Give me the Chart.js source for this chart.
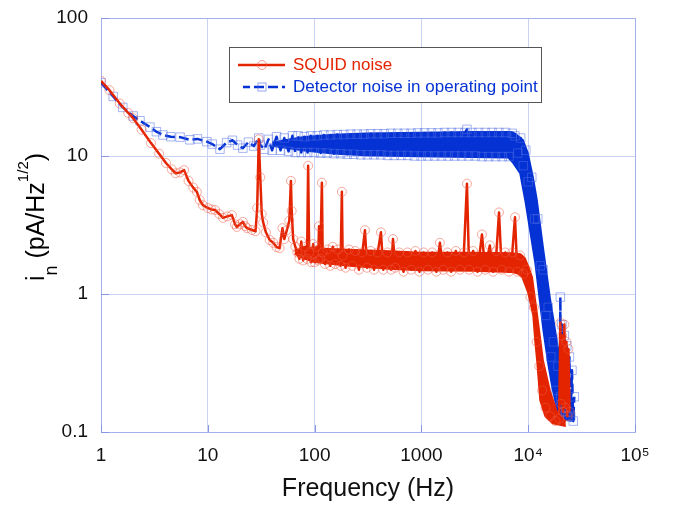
<!DOCTYPE html>
<html>
<head>
<meta charset="utf-8">
<script src="https://cdn.jsdelivr.net/npm/chart.js@4.4.1/dist/chart.umd.min.js"></script>
<style>
  body { margin: 0; background: #fff; }
  #wrap { width: 674px; height: 506px; }
</style>
</head>
<body>
<div id="wrap"><canvas id="chart"></canvas></div>
<script>
// axes
const xTicks = [1, 10, 100, 1000, 10000, 100000];
const xTickLabels = ['1', '10', '100', '1000', '10⁴', '10⁵'];
const yTicks = [0.1, 1, 10, 100];
const yTickLabels = ['0.1', '1', '10', '100'];

const squidLabel = 'SQUID noise';
const detLabel = 'Detector noise in operating point';

// SQUID noise
const squidFreq = [
  1, 1.2, 1.5, 1.8, 2, 2.4, 2.94, 3.5, 4.06, 4.6, 5, 5.5, 6, 6.6, 7.3, 7.9, 8.4, 9, 10, 10.8,
  11.7, 12.8, 13.9, 15.2, 16.8, 18, 18.7, 20, 21.3, 22.4, 23.3, 25.9, 28, 29, 30, 31, 32, 33, 35, 38,
  41, 44, 47, 50, 52, 55, 58, 60, 61, 63, 66, 69, 72, 75, 78, 82, 85, 87, 89, 93,
  97, 100, 104, 108, 110, 113, 117, 119, 125, 132, 140, 148, 156, 165, 175, 180, 183, 195, 210, 225,
  240, 260, 280, 296, 310, 335, 360, 390, 418, 440, 480, 520, 542, 570, 620, 680, 740, 800, 880, 960,
  1050, 1150, 1260, 1380, 1490, 1600, 1750, 1900, 2100, 2300, 2500, 2670, 2800, 3050, 3350, 3690, 3950, 4370, 4700, 5050,
  5330, 5650, 6100, 6600, 7100, 7520, 7900, 8400, 9000, 9700, 10500, 11300, 12000, 12700, 13500, 14500, 16000, 18000, 19500, 20000,
  20300, 20800, 21200, 21800, 22300, 22800, 23300, 23800, 24400
];
const squidNoise = [
  35, 30, 24, 20.5, 18.8, 15.5, 12.4, 10.4, 8.9, 8.0, 7.5, 7.6, 7.9, 6.6, 5.9, 5.5, 4.8, 4.4, 4.2, 4.1,
  4.06, 3.8, 3.56, 3.65, 3.73, 3.2, 3.06, 3.2, 3.33, 3.1, 3.0, 2.91, 2.85, 4.2, 13.2, 7, 3.8, 3.3, 2.8, 2.46,
  2.35, 2.19, 2.15, 3.0, 2.5, 2.9, 3.4, 6.6, 4, 2.5, 2.2, 2.0, 1.8, 2.4, 1.75, 2.2, 1.8, 8.5, 2.0, 1.7,
  2.3, 1.7, 2.2, 1.75, 3.1, 1.8, 6.4, 2.0, 1.65, 2.1, 1.6, 2.2, 1.65, 2.1, 1.6, 5.5, 1.9, 1.55, 2.1, 1.6,
  2.05, 1.5, 2.0, 2.9, 1.55, 2.05, 1.5, 2.0, 2.8, 1.5, 2.0, 1.5, 2.5, 1.55, 2.0, 1.45, 2.0, 1.5, 2.05, 1.45,
  2.0, 1.5, 2.0, 1.45, 2.35, 1.5, 2.0, 1.45, 2.05, 1.5, 2.0, 6.3, 1.5, 2.05, 1.45, 2.7, 1.5, 2.25, 1.45, 2.05,
  3.9, 1.5, 2.0, 1.45, 2.0, 3.6, 1.45, 1.9, 1.4, 1.5, 0.95, 0.8, 0.45, 0.3, 0.2, 0.15, 0.13, 0.12, 0.125, 0.62,
  0.16, 0.5, 0.14, 0.6, 0.15, 0.45, 0.13, 0.4, 0.14
];
// dense part of the SQUID trace: upper / lower edge of the band
const squidBandFreqUp = [65, 80, 100, 200, 500, 1000, 3000, 7000, 8500, 9330, 10000, 10900, 12100, 13800, 16000, 18600, 21000, 22500];
const squidBandUp = [2.05, 2.2, 2.15, 2.1, 2.05, 2.0, 2.0, 1.98, 1.95, 1.82, 1.6, 1.33, 0.73, 0.33, 0.2, 0.14, 0.125, 0.12];
const squidBandFreqLow = [65, 80, 100, 200, 500, 1000, 3000, 7000, 8000, 8750, 9960, 11100, 11600, 12100, 12900, 14400, 17000, 22500];
const squidBandLow = [1.95, 1.8, 1.7, 1.6, 1.52, 1.48, 1.47, 1.44, 1.4, 1.33, 1.02, 0.7, 0.45, 0.32, 0.17, 0.13, 0.115, 0.11];

// detector noise
const detFreq = [
  1, 1.3, 1.6, 2, 2.32, 2.87, 3.3, 3.8, 4.5, 5.5, 6.8, 8, 9.8, 11, 13, 15, 17, 19, 21.3, 24,
  27, 30, 31, 34, 37, 40, 44, 48, 52, 57, 62, 66, 70, 75, 80, 86, 92, 99, 106, 114,
  122, 131, 141, 152, 163, 175, 188, 202, 217, 233, 250, 270, 290, 312, 335, 360, 388, 417, 448, 482,
  518, 557, 600, 645, 693, 745, 800, 860, 925, 995, 1070, 1150, 1240, 1330, 1430, 1540, 1650, 1780, 1910, 2050,
  2210, 2380, 2560, 2670, 2760, 2970, 3190, 3430, 3690, 3970, 4270, 4590, 4940, 5310, 5710, 6140, 6600, 7100, 7520, 8000,
  8500, 9000, 9500, 10000, 10800, 11500, 12300, 13000, 13800, 14600, 15400, 16300, 17200, 18000, 19000, 19800, 20000, 20200, 20700, 21200,
  21800, 22400, 23000, 23600, 24300, 25000, 25700, 26400, 27000
];
const detNoise = [
  34, 27, 22.5, 19.5, 18, 16.2, 15, 14.2, 13.8, 13.7, 13.1, 13.3, 12.7, 12.2, 11.2, 12.5, 13, 12, 11.4, 12.6,
  11.8, 13.5, 12, 11.2, 13.2, 11, 13.8, 11, 13.5, 10.8, 14, 10.6, 14.0, 10.6, 13.8, 10.6, 14.0, 10.6, 14.0, 10.5,
  14.2, 10.5, 14.2, 10.4, 14.3, 10.4, 14.3, 10.3, 14.4, 10.3, 14.4, 10.2, 14.4, 10.2, 14.5, 10.2, 14.5, 10.2, 14.5, 10.1,
  14.6, 10.1, 14.6, 10.1, 14.6, 10.1, 14.6, 10.0, 14.7, 10.0, 14.7, 10.0, 14.7, 10.0, 14.7, 10.0, 14.8, 10.0, 14.8, 10.0,
  14.8, 10.0, 14.8, 15.6, 10.0, 14.8, 10.0, 14.8, 9.9, 14.8, 9.9, 14.8, 9.9, 14.8, 9.9, 14.8, 9.9, 14.6, 14.0, 10.5,
  13.5, 8.5, 11, 6.5, 7, 3.5, 3.5, 1.6, 1.5, 0.7, 0.8, 0.35, 0.45, 0.2, 0.3, 0.15, 0.95, 0.18, 0.6, 0.15,
  0.5, 0.14, 0.42, 0.13, 0.35, 0.13, 0.28, 0.12, 0.18
];
const detBandFreqUp = [40, 60, 80, 150, 300, 1000, 3000, 7000, 7520, 8940, 9960, 11100, 12100, 13800, 16000, 19000, 23100, 26300, 27000];
const detBandUp = [12.6, 13.3, 13.8, 14.3, 14.6, 14.8, 15.0, 15.0, 14.6, 13.1, 10.5, 7.05, 4.8, 2.19, 0.95, 0.413, 0.238, 0.152, 0.122];
const detBandFreqLow = [40, 60, 80, 150, 300, 1000, 3000, 6500, 7210, 8380, 9330, 11600, 13800, 15300, 16700, 18600, 22100, 25000, 27000];
const detBandLow = [11.8, 11.3, 10.9, 10.4, 10.1, 9.9, 9.8, 9.7, 8.9, 7.5, 4.8, 1.68, 0.55, 0.316, 0.212, 0.144, 0.122, 0.12, 0.122];

const RED = '#e42400';
const BLUE = '#0532d4';
const FONT = "'Liberation Sans', Arial, sans-serif";

const toPoints = (xs, ys) => xs.map((x, i) => ({ x: x, y: ys[i] }));

function bandSet(xs, ys, color, fill) {
    return {
        data: toPoints(xs, ys),
        borderColor: color,
        backgroundColor: color,
        borderWidth: 1.5,
        borderJoinStyle: 'round',
        pointRadius: 0,
        fill: fill
    };
}

// frame, inner ticks, legend and y title
const decor = {
    id: 'decor',
    beforeDatasetsDraw(chart) {
        const { ctx, chartArea: a, scales } = chart;
        ctx.save();
        ctx.strokeStyle = '#a3b1ef';
        ctx.lineWidth = 1;
        ctx.strokeRect(a.left + 0.5, a.top + 0.5, a.right - a.left, a.bottom - a.top);
        ctx.strokeStyle = '#8796e6';
        ctx.beginPath();
        xTicks.forEach(v => {
            const px = Math.round(scales.x.getPixelForValue(v)) + 0.5;
            ctx.moveTo(px, a.bottom);
            ctx.lineTo(px, a.bottom - 7);
        });
        yTicks.forEach(v => {
            const py = Math.round(scales.y.getPixelForValue(v)) + 0.5;
            ctx.moveTo(a.left, py);
            ctx.lineTo(a.left + 8, py);
        });
        ctx.stroke();
        ctx.restore();
    },
    afterDraw(chart) {
        const ctx = chart.ctx;
        ctx.save();

        // legend box
        ctx.fillStyle = '#fff';
        ctx.fillRect(229.5, 47.5, 312, 55);
        ctx.strokeStyle = '#555';
        ctx.lineWidth = 1;
        ctx.strokeRect(229.5, 47.5, 312, 55);

        ctx.lineWidth = 2.5;
        ctx.strokeStyle = RED;
        ctx.beginPath();
        ctx.moveTo(238, 65);
        ctx.lineTo(285, 65);
        ctx.stroke();
        ctx.lineWidth = 1;
        ctx.strokeStyle = 'rgba(240,90,70,0.6)';
        ctx.beginPath();
        ctx.arc(262, 65, 4.5, 0, Math.PI * 2);
        ctx.stroke();

        ctx.lineWidth = 2.5;
        ctx.strokeStyle = BLUE;
        ctx.setLineDash([10, 4]);
        ctx.lineDashOffset = 3;
        ctx.beginPath();
        ctx.moveTo(243, 87);
        ctx.lineTo(285, 87);
        ctx.stroke();
        ctx.setLineDash([]);
        ctx.lineWidth = 1;
        ctx.strokeStyle = 'rgba(80,110,230,0.6)';
        ctx.strokeRect(258, 83, 8, 8);

        ctx.font = '17px ' + FONT;
        ctx.textBaseline = 'middle';
        ctx.textAlign = 'left';
        ctx.fillStyle = RED;
        ctx.fillText(squidLabel, 293, 65);
        ctx.fillStyle = BLUE;
        ctx.fillText(detLabel, 293, 87);

        // y title: i_n (pA/Hz^1/2)
        const parts = [
            { t: 'i', size: 25, dy: 0 },
            { t: 'n', size: 18, dy: 13 },
            { t: ' (pA/Hz', size: 25, dy: 0 },
            { t: '1/2', size: 15, dy: -16 },
            { t: ')', size: 25, dy: 0 }
        ];
        let total = 0;
        parts.forEach(p => {
            ctx.font = p.size + 'px ' + FONT;
            p.w = ctx.measureText(p.t).width;
            total += p.w;
        });
        ctx.translate(44, 217);
        ctx.rotate(-Math.PI / 2);
        ctx.fillStyle = '#000';
        ctx.textBaseline = 'alphabetic';
        let cx = -total / 2;
        parts.forEach(p => {
            ctx.font = p.size + 'px ' + FONT;
            ctx.fillText(p.t, cx, p.dy);
            cx += p.w;
        });
        ctx.restore();
    }
};

new Chart(document.getElementById('chart'), {
    type: 'line',
    data: {
        datasets: [
            {
                label: squidLabel,
                data: toPoints(squidFreq, squidNoise),
                borderColor: RED,
                borderWidth: 2.5,
                borderJoinStyle: 'round',
                pointStyle: 'circle',
                pointRadius: 4.5,
                pointBorderWidth: 1,
                pointBorderColor: 'rgba(240,90,70,0.5)',
                pointBackgroundColor: 'rgba(0,0,0,0)',
                fill: false
            },
            bandSet(squidBandFreqUp, squidBandUp, RED, false),
            bandSet(squidBandFreqLow, squidBandLow, RED, '-1'),
            {
                label: detLabel,
                data: toPoints(detFreq, detNoise),
                borderColor: BLUE,
                borderWidth: 2.5,
                borderDash: [10, 4],
                borderJoinStyle: 'round',
                pointStyle: 'rect',
                pointRadius: 6,
                pointBorderWidth: 1,
                pointBorderColor: 'rgba(80,110,230,0.5)',
                pointBackgroundColor: 'rgba(0,0,0,0)',
                fill: false
            },
            bandSet(detBandFreqUp, detBandUp, BLUE, false),
            bandSet(detBandFreqLow, detBandLow, BLUE, '-1')
        ]
    },
    options: {
        responsive: true,
        maintainAspectRatio: false,
        animation: false,
        layout: { padding: { left: 0, right: 39, top: 18, bottom: 0 } },
        plugins: {
            legend: { display: false },
            tooltip: { enabled: false }
        },
        scales: {
            x: {
                type: 'logarithmic',
                min: 1,
                max: 100000,
                afterBuildTicks: s => { s.ticks = xTicks.map(v => ({ value: v })); },
                afterFit: s => { s.height = 74; },
                grid: { color: '#c9d1f5', drawTicks: false },
                border: { display: false },
                ticks: {
                    autoSkip: false,
                    maxRotation: 0,
                    padding: 12,
                    color: '#111',
                    font: { family: FONT, size: 19 },
                    callback: (v, i) => xTickLabels[i]
                },
                title: {
                    display: true,
                    text: 'Frequency (Hz)',
                    color: '#111',
                    font: { family: FONT, size: 25 },
                    padding: { top: 0, bottom: 2 }
                }
            },
            y: {
                type: 'logarithmic',
                min: 0.1,
                max: 100,
                afterBuildTicks: s => { s.ticks = yTicks.map(v => ({ value: v })); },
                afterFit: s => {
                    s.width = 101;
                    s.paddingTop = 0;
                    s.paddingBottom = 0;
                },
                grid: { color: '#c9d1f5', drawTicks: false },
                border: { display: false },
                ticks: {
                    autoSkip: false,
                    padding: 13,
                    color: '#111',
                    font: { family: FONT, size: 19 },
                    callback: (v, i) => yTickLabels[i]
                }
            }
        }
    },
    plugins: [decor]
});
</script>
</body>
</html>
